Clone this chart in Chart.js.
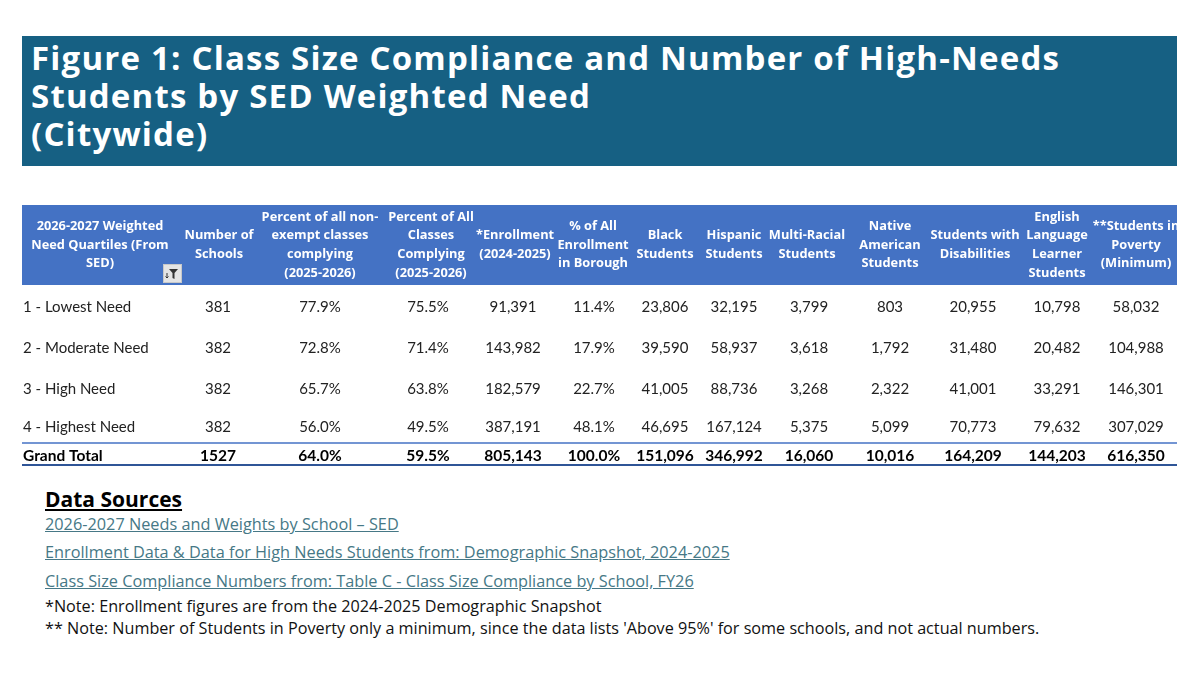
<!DOCTYPE html>
<html>
<head>
<meta charset="utf-8">
<script src="https://cdn.jsdelivr.net/npm/chart.js@4/dist/chart.umd.min.js"></script>
<style>
  html, body { margin: 0; padding: 0; background: #fff; }
  body { width: 1200px; height: 675px; position: relative; overflow: hidden; font-family: "Open Sans", Lato, sans-serif; }
  .banner {
    position: absolute; left: 22px; top: 36px; width: 1146px; height: 127px;
    background: #166083; color: #fff; font-weight: 700; font-size: 33px; line-height: 38px;
    letter-spacing: 1.2px; padding: 3px 0 0 9px; white-space: nowrap;
  }
  .wrap { position: absolute; left: 0; top: 190px; width: 1200px; height: 290px; }
  .line { position: absolute; left: 45px; white-space: nowrap; line-height: 1; }
  .src-title { font-weight: 700; font-size: 21px; text-decoration: underline; color: #000; }
  .link { font-size: 16.3px; color: #467886; text-decoration: underline; }
  .note { font-size: 16.2px; color: #111; }
</style>
</head>
<body>
<div class="banner">Figure 1: Class Size Compliance and Number of High-Needs<br>Students by SED Weighted Need<br>(Citywide)</div>
<div class="wrap"><canvas id="tableChart"></canvas></div>
<div class="line src-title" style="top:489px">Data Sources</div>
<div class="line link" style="top:516px">2026-2027 Needs and Weights by School – SED</div>
<div class="line link" style="top:544px">Enrollment Data &amp; Data for High Needs Students from: Demographic Snapshot, 2024-2025</div>
<div class="line link" style="top:573px">Class Size Compliance Numbers from: Table C - Class Size Compliance by School, FY26</div>
<div class="line note" style="top:598px">*Note: Enrollment figures are from the 2024-2025 Demographic Snapshot</div>
<div class="line note" style="top:620px">** Note: Number of Students in Poverty only a minimum, since the data lists 'Above 95%' for some schools, and not actual numbers.</div>

<script>
const quartiles = ['1 - Lowest Need', '2 - Moderate Need', '3 - High Need', '4 - Highest Need', 'Grand Total'];

const schools        = [381, 382, 382, 382, 1527];
const pctNonExempt   = [77.9, 72.8, 65.7, 56.0, 64.0];
const pctAllClasses  = [75.5, 71.4, 63.8, 49.5, 59.5];
const enrollment     = [91391, 143982, 182579, 387191, 805143];
const pctEnrollment  = [11.4, 17.9, 22.7, 48.1, 100.0];
const black          = [23806, 39590, 41005, 46695, 151096];
const hispanic       = [32195, 58937, 88736, 167124, 346992];
const multiRacial    = [3799, 3618, 3268, 5375, 16060];
const nativeAmerican = [803, 1792, 2322, 5099, 10016];
const disabilities   = [20955, 31480, 41001, 70773, 164209];
const ell            = [10798, 20482, 33291, 79632, 144203];
const poverty        = [58032, 104988, 146301, 307029, 616350];

const headers = [
  ['2026-2027 Weighted', 'Need Quartiles (From', 'SED)'],
  ['Number of', 'Schools'],
  ['Percent of all non-', 'exempt classes', 'complying', '(2025-2026)'],
  ['Percent of All', 'Classes', 'Complying', '(2025-2026)'],
  ['*Enrollment', '(2024-2025)'],
  ['% of All', 'Enrollment', 'in Borough'],
  ['Black', 'Students'],
  ['Hispanic', 'Students'],
  ['Multi-Racial', 'Students'],
  ['Native', 'American', 'Students'],
  ['Students with', 'Disabilities'],
  ['English', 'Language', 'Learner', 'Students'],
  ['**Students in', 'Poverty', '(Minimum)'],
];

const num = v => v.toLocaleString('en-US');
const pct = v => v.toFixed(1) + '%';

const columns = [
  { values: quartiles,      fmt: v => v },
  { values: schools,        fmt: v => String(v) },
  { values: pctNonExempt,   fmt: pct },
  { values: pctAllClasses,  fmt: pct },
  { values: enrollment,     fmt: num },
  { values: pctEnrollment,  fmt: pct },
  { values: black,          fmt: num },
  { values: hispanic,       fmt: num },
  { values: multiRacial,    fmt: num },
  { values: nativeAmerican, fmt: num },
  { values: disabilities,   fmt: num },
  { values: ell,            fmt: num },
  { values: poverty,        fmt: num },
];

// layout: page pixel positions used as scale units
const COL_X  = [23, 218, 320, 428, 513, 594, 665, 734, 809, 890, 973, 1057, 1136];
const HEAD_X = [100, 219, 320, 431, 515, 593, 665, 734, 807, 890, 975, 1057, 1136];
const ROW_Y  = [307, 348, 389, 427, 456];
const HEAD_Y = 245;
const TABLE  = { left: 22, right: 1177, headTop: 205, headBottom: 285, totalTop: 443, bottom: 465 };

const BODY_FONT = '15px Lato';
const BOLD_FONT = 'bold 15.5px Lato';
const HEAD_FONT = 'bold 12.8px "Open Sans"';

function hline(ctx, l, r, yy, color, width) {
  ctx.strokeStyle = color;
  ctx.lineWidth = width;
  ctx.beginPath();
  ctx.moveTo(l, yy);
  ctx.lineTo(r, yy);
  ctx.stroke();
}

function drawFilterButton(ctx, fx, fy) {
  ctx.fillStyle = '#e4e4e4';
  ctx.fillRect(fx, fy, 19, 19);
  ctx.strokeStyle = '#c8c8c8';
  ctx.lineWidth = 1;
  ctx.strokeRect(fx + 0.5, fy + 0.5, 18, 18);
  ctx.fillStyle = '#333';
  ctx.beginPath();
  ctx.moveTo(fx + 6, fy + 5);
  ctx.lineTo(fx + 15, fy + 5);
  ctx.lineTo(fx + 11.5, fy + 9);
  ctx.lineTo(fx + 11.5, fy + 15);
  ctx.lineTo(fx + 9.5, fy + 14);
  ctx.lineTo(fx + 9.5, fy + 9);
  ctx.closePath();
  ctx.fill();
  ctx.strokeStyle = '#333';
  ctx.beginPath();
  ctx.moveTo(fx + 4, fy + 9);
  ctx.lineTo(fx + 4, fy + 14);
  ctx.lineTo(fx + 2.5, fy + 12.5);
  ctx.moveTo(fx + 4, fy + 14);
  ctx.lineTo(fx + 5.5, fy + 12.5);
  ctx.stroke();
}

const tablePlugin = {
  id: 'tableCells',
  beforeDatasetsDraw(chart) {
    const { ctx, scales: { x, y } } = chart;
    const l = x.getPixelForValue(TABLE.left), r = x.getPixelForValue(TABLE.right);
    const t = y.getPixelForValue(TABLE.headTop), b = y.getPixelForValue(TABLE.headBottom);
    ctx.save();
    ctx.fillStyle = '#4472c4';
    ctx.fillRect(l, t, r - l, b - t);

    hline(ctx, l, r, y.getPixelForValue(TABLE.totalTop), '#4472c4', 1.5);
    hline(ctx, l, r, y.getPixelForValue(TABLE.bottom), '#2f5597', 2);

    ctx.fillStyle = '#fff';
    ctx.font = HEAD_FONT;
    ctx.textAlign = 'center';
    ctx.textBaseline = 'middle';
    const lh = 18.6;
    headers.forEach((lines, i) => {
      const cx = x.getPixelForValue(HEAD_X[i]);
      const cy = y.getPixelForValue(HEAD_Y);
      lines.forEach((s, k) => {
        ctx.fillText(s, cx, cy + (k - (lines.length - 1) / 2) * lh);
      });
    });

    drawFilterButton(ctx, x.getPixelForValue(163), y.getPixelForValue(264));
    ctx.restore();
  },
  afterDatasetsDraw(chart) {
    const { ctx } = chart;
    ctx.save();
    ctx.textBaseline = 'middle';
    chart.data.datasets.forEach((ds, i) => {
      const meta = chart.getDatasetMeta(i);
      ctx.textAlign = i === 0 ? 'left' : 'center';
      meta.data.forEach((pt, j) => {
        const total = j === quartiles.length - 1;
        ctx.font = total ? BOLD_FONT : BODY_FONT;
        ctx.fillStyle = total ? '#000' : '#222';
        ctx.fillText(columns[i].fmt(ds.data[j].v), pt.x, pt.y);
      });
    });
    ctx.restore();
  },
};

new Chart(document.getElementById('tableChart'), {
  type: 'scatter',
  data: {
    datasets: columns.map((c, i) => ({
      data: c.values.map((v, j) => ({ x: COL_X[i], y: ROW_Y[j], v })),
      pointRadius: 0,
      pointHoverRadius: 0,
    })),
  },
  options: {
    responsive: true,
    maintainAspectRatio: false,
    animation: false,
    layout: { padding: 0 },
    plugins: { legend: { display: false }, tooltip: { enabled: false } },
    events: [],
    scales: {
      x: { type: 'linear', min: 0, max: 1200, display: false },
      y: { type: 'linear', min: 190, max: 480, reverse: true, display: false },
    },
  },
  plugins: [tablePlugin],
});
</script>
</body>
</html>
